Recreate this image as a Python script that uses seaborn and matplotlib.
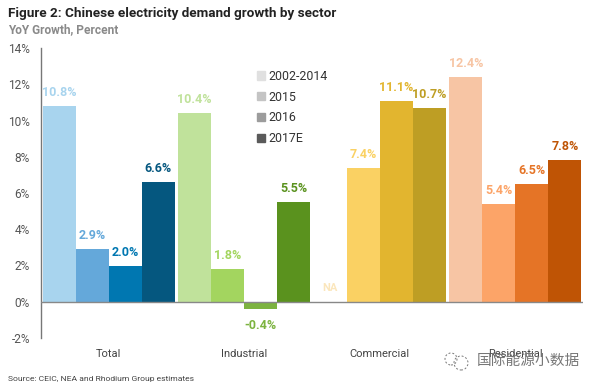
import pandas as pd
import numpy as np
import seaborn as sns
import matplotlib
matplotlib.use("Agg")
import matplotlib.pyplot as plt
from matplotlib.patches import Patch, Ellipse

sectors = ["Total", "Industrial", "Commercial", "Residential"]
periods = ["2002-2014", "2015", "2016", "2017E"]
total = [10.8, 2.9, 2.0, 6.6]
industrial = [10.4, 1.8, -0.4, 5.5]
commercial = [np.nan, 7.4, 11.1, 10.7]
residential = [12.4, 5.4, 6.5, 7.8]
y_ticks = [-2, 0, 2, 4, 6, 8, 10, 12, 14]

# one colour ramp per sector, light to dark
colors = {
    "Total": ["#A8D4EE", "#64A8DA", "#0077B1", "#05577F"],
    "Industrial": ["#C0E29B", "#A3D55F", "#7CB33F", "#5A921E"],
    "Commercial": ["#FBE6BC", "#FAD163", "#E2B52F", "#BE9E24"],
    "Residential": ["#F7C5A4", "#FCA468", "#E57426", "#BF5405"],
}
legend_grays = ["#E0E0E0", "#C4C4C4", "#9C9C9C", "#5A5A5A"]

df = pd.DataFrame({
    "sector": np.repeat(sectors, 4),
    "period": periods * 4,
    "growth": total + industrial + commercial + residential,
})

sns.set_style("white")
plt.rcParams["font.family"] = ["Roboto", "DejaVu Sans"]

fig = plt.figure(figsize=(6, 3.89), dpi=100)
ax = fig.add_axes([41 / 600, 1 - 338 / 389, 542 / 600, 290 / 389])

sns.barplot(data=df, x="sector", y="growth", hue="period", order=sectors,
            hue_order=periods, width=0.975, gap=0, saturation=1, legend=False,
            edgecolor="none", linewidth=0, ax=ax)

ax.set_xlim(-0.5, 3.5)
ax.set_ylim(-2, 14)
ax.set_xlabel("")
ax.set_ylabel("")
ax.set_yticks(y_ticks)
ax.set_yticklabels([f"{t}%" for t in y_ticks], fontsize=8.6, color="#555555")
ax.tick_params(axis="both", length=0)
ax.tick_params(axis="y", pad=8)
ax.tick_params(axis="x", pad=8, labelsize=8, labelcolor="#444444")
sns.despine(ax=ax, top=True, right=True, bottom=True)
ax.spines["left"].set_color("#777777")
ax.spines["left"].set_linewidth(1)
ax.axhline(0, color="#888888", lw=1, zorder=5)

# colour bars and write value labels
for j, cont in enumerate(ax.containers):
    for bar in cont:
        h = bar.get_height()
        if np.isnan(h):
            continue
        i = int(round(bar.get_x() + bar.get_width() / 2))
        c = colors[sectors[i]][j]
        bar.set_facecolor(c)
        va = "top" if h < 0 else "bottom"
        off = -7 if h < 0 else 5
        ax.annotate(f"{h:.1f}%", (bar.get_x() + bar.get_width() / 2, h), xytext=(0, off),
                    textcoords="offset points", ha="center", va=va, fontsize=9,
                    fontweight="bold", color=c)

ax.annotate("NA", (2 - 0.975 * 3 / 8, 0), xytext=(0, 6), textcoords="offset points",
            ha="center", va="bottom", fontsize=8, fontweight="bold", color=colors["Commercial"][0])

handles = [Patch(color=c, label=p) for c, p in zip(legend_grays, periods)]
ax.legend(handles=handles, loc="upper left", bbox_to_anchor=(0.398, 0.925), frameon=False,
          fontsize=8.9, labelcolor="#333333", handlelength=0.65, handleheight=0.65,
          handletextpad=0.33, labelspacing=0.63, borderpad=0, borderaxespad=0)

fig.text(8 / 600, 1 - 14 / 389, "Figure 2: Chinese electricity demand growth by sector",
         fontsize=9.7, fontweight="bold", color="#222222", va="center")
fig.text(8 / 600, 1 - 30 / 389, "YoY Growth, Percent", fontsize=8.6, fontweight="bold",
         color="#8A8A8A", va="center")
fig.text(8 / 600, 1 - 379 / 389, "Source: CEIC, NEA and Rhodium Group estimates",
         fontsize=6.1, color="#444444", va="center")

# watermark
fig.text(477 / 600, 1 - 361 / 389, "国际能源小数据", fontsize=10.6, color="#777777", va="center",
         family=["Noto Sans CJK SC", "DejaVu Sans"], zorder=10)
for cx, cy, r in [(451, 359, 6), (461, 363, 7)]:
    fig.add_artist(Ellipse((cx / 600, 1 - cy / 389), 2 * r / 600, 2 * r / 389, fill=False,
                           ec="#777777", lw=0.7, ls=(0, (2, 2))))

fig.savefig("out.png", dpi=100)
